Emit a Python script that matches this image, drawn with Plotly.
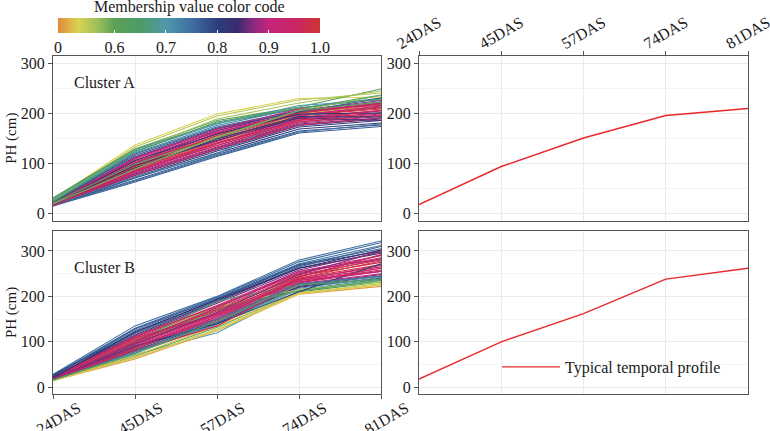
import plotly.graph_objects as go
from plotly.colors import sample_colorscale

days = ["24DAS", "45DAS", "57DAS", "74DAS", "81DAS"]

profile_a = [17, 93, 150, 195, 209]
profile_b = [18, 100, 162, 238, 262]

cluster_a = [
    [27, 136, 198, 229, 232], [25, 132, 194, 226, 240], [30, 128, 185, 212, 248],
    [26, 125, 188, 220, 244], [28, 127, 180, 208, 236], [24, 124, 178, 215, 226],
    [22, 120, 175, 210, 230], [20, 118, 172, 205, 222], [18, 112, 168, 203, 218],
    [20, 110, 165, 200, 220], [18, 105, 162, 200, 215], [17, 100, 158, 198, 212],
    [16, 98, 155, 196, 210], [18, 95, 152, 195, 208], [17, 92, 148, 194, 211],
    [19, 90, 145, 192, 205], [16, 88, 143, 190, 204], [18, 86, 140, 188, 200],
    [15, 84, 138, 185, 198], [17, 82, 135, 183, 196], [16, 80, 132, 180, 193],
    [15, 78, 130, 178, 190], [16, 75, 127, 175, 188], [15, 72, 124, 172, 185],
    [14, 70, 120, 168, 180], [15, 66, 117, 164, 176], [14, 62, 113, 160, 173],
    [15, 64, 115, 162, 178], [19, 92, 140, 198, 215], [16, 72, 118, 197, 200],
    [18, 100, 165, 205, 225], [17, 97, 160, 202, 220], [16, 93, 155, 200, 218],
    [19, 103, 150, 190, 205], [18, 90, 140, 186, 200], [15, 85, 135, 182, 195],
    [17, 108, 162, 196, 214], [16, 76, 128, 176, 190], [21, 115, 170, 202, 230],
    [23, 122, 182, 210, 228], [19, 105, 158, 198, 200], [17, 95, 145, 190, 185],
    [16, 90, 148, 193, 192], [18, 110, 168, 208, 215], [15, 82, 140, 186, 205],
    [20, 98, 150, 205, 222], [18, 88, 152, 205, 235],
]
membership_a = [
    0.53, 0.55, 0.62, 0.56, 0.66, 0.70, 0.72, 0.76, 0.80, 0.88, 0.92, 0.95,
    0.98, 0.99, 0.97, 0.96, 0.94, 0.93, 0.90, 0.91, 0.89, 0.86, 0.84, 0.82,
    0.80, 0.78, 0.77, 0.75, 0.51, 0.72, 0.87, 0.93, 0.99, 0.96, 0.98, 0.97,
    0.90, 0.95, 0.78, 0.65, 0.83, 0.85, 0.81, 0.92, 0.94, 0.60, 0.58,
]

cluster_b = [
    [28, 135, 200, 280, 322], [26, 130, 198, 276, 318], [25, 125, 196, 272, 312],
    [24, 128, 195, 270, 305], [27, 120, 193, 268, 300], [22, 118, 190, 265, 310],
    [23, 115, 188, 262, 295], [21, 112, 185, 258, 298], [20, 110, 180, 255, 290],
    [19, 108, 176, 252, 285], [18, 105, 172, 248, 280], [17, 102, 168, 245, 275],
    [18, 100, 164, 240, 270], [17, 98, 160, 238, 265], [16, 96, 158, 235, 262],
    [18, 94, 155, 232, 258], [17, 92, 152, 230, 255], [16, 90, 150, 228, 250],
    [17, 88, 148, 226, 248], [16, 85, 145, 222, 245], [15, 82, 142, 220, 240],
    [16, 78, 140, 218, 242], [15, 75, 138, 215, 238], [14, 72, 120, 212, 236],
    [15, 68, 132, 210, 232], [14, 65, 128, 207, 228], [15, 62, 125, 205, 222],
    [16, 70, 135, 208, 225], [18, 104, 177, 215, 232], [19, 95, 170, 212, 235],
    [17, 100, 190, 225, 245], [20, 112, 178, 250, 290], [18, 104, 170, 244, 283],
    [17, 97, 162, 242, 292], [19, 108, 160, 236, 268], [16, 84, 150, 240, 278],
    [18, 90, 140, 210, 272], [15, 80, 135, 230, 262], [20, 122, 192, 262, 302],
    [18, 100, 175, 255, 282], [17, 95, 165, 248, 300], [16, 88, 155, 235, 255],
    [15, 78, 150, 228, 244], [14, 66, 126, 206, 226], [16, 74, 145, 225, 238],
]
membership_b = [
    0.75, 0.76, 0.74, 0.77, 0.79, 0.76, 0.83, 0.86, 0.91, 0.94, 0.96, 0.98,
    0.99, 0.97, 0.95, 0.93, 0.92, 0.90, 0.88, 0.85, 0.82, 0.72, 0.68, 0.70,
    0.62, 0.55, 0.50, 0.52, 0.56, 0.60, 0.66, 0.97, 0.99, 0.95, 0.92, 0.98,
    0.80, 0.96, 0.84, 0.89, 0.87, 0.93, 0.74, 0.53, 0.64,
]

cbar_tickvals = [0.49, 0.6, 0.7, 0.8, 0.9, 1.0]
cbar_ticktext = ["0", "0.6", "0.7", "0.8", "0.9", "1.0"]
cmin, cmax = 0.49, 1.0

colorscale = [
    [0.000, "#E3893A"], [0.078, "#D9D252"], [0.157, "#96BE5A"],
    [0.216, "#5BA155"], [0.314, "#4E9A66"], [0.412, "#4E98AC"],
    [0.510, "#3F6FA3"], [0.608, "#2C3E7C"], [0.686, "#3A2B6E"],
    [0.745, "#8A2A80"], [0.804, "#C52479"], [0.902, "#C82565"],
    [1.000, "#CC3535"],
]

FONT = "Liberation Serif"
RED = "#E8282B"
TXT = "#1a1a1a"

PL, PR, PT, PB = 53, 748, 56, 394          # plot-area box in window pixels (770 x 431)
W = PR - PL
H = PB - PT


def px(x):
    return (x - PL) / W


def py(y):
    return (PB - y) / H


def col(m):
    return sample_colorscale(colorscale, [(m - cmin) / (cmax - cmin)])[0]


fig = go.Figure()

for vals, m in zip(cluster_a, membership_a):
    fig.add_trace(go.Scatter(x=days, y=vals, mode="lines", line=dict(color=col(m), width=1.1),
                             showlegend=False, hoverinfo="skip", xaxis="x", yaxis="y"))
for vals, m in zip(cluster_b, membership_b):
    fig.add_trace(go.Scatter(x=days, y=vals, mode="lines", line=dict(color=col(m), width=1.1),
                             showlegend=False, hoverinfo="skip", xaxis="x3", yaxis="y3"))

# colorbar carrier (invisible marker)
fig.add_trace(go.Scatter(
    x=[days[0]], y=[profile_a[0]], mode="markers", showlegend=False, hoverinfo="skip",
    marker=dict(color=[cmin], colorscale=colorscale, cmin=cmin, cmax=cmax, opacity=0, size=1,
                showscale=True,
                colorbar=dict(orientation="h", x=px((58 + 320) / 2), xanchor="center",
                              y=py(18), yanchor="top", len=262, lenmode="pixels",
                              thickness=15, xpad=0, ypad=0, outlinewidth=0,
                              tickvals=cbar_tickvals, ticktext=cbar_ticktext,
                              ticks="inside", ticklen=3, tickcolor="white", tickwidth=1,
                              tickfont=dict(family=FONT, size=16, color=TXT))),
    xaxis="x", yaxis="y"))

fig.add_trace(go.Scatter(x=days, y=profile_a, mode="lines", line=dict(color=RED, width=1.4),
                         showlegend=False, hoverinfo="skip", xaxis="x2", yaxis="y2"))
fig.add_trace(go.Scatter(x=days, y=profile_b, mode="lines", line=dict(color=RED, width=1.4),
                         name="Typical temporal profile", showlegend=True, hoverinfo="skip",
                         xaxis="x4", yaxis="y4"))

xl = [px(53), px(381)]
xr = [px(419), px(748)]
yt = [py(220.5), py(56)]
yb = [py(394), py(231)]

tickfont = dict(family=FONT, size=16, color=TXT)


def xaxis(domain, anchor, side, labels, shift, standoff):
    return dict(domain=domain, anchor=anchor, side=side, type="category", range=[0, 4],
                showgrid=True, gridcolor="#EBEBEB", gridwidth=1,
                showline=True, mirror=True, linecolor="#555555", linewidth=1,
                ticks="outside" if labels else "", ticklen=4, tickcolor="#555555",
                showticklabels=labels, tickangle=-30, tickfont=tickfont, zeroline=False,
                ticklabelshift=shift, ticklabelstandoff=standoff, automargin=False)


def yaxis(domain, anchor, rng, title):
    return dict(domain=domain, anchor=anchor, range=rng, tickvals=[0, 100, 200, 300],
                showgrid=True, gridcolor="#EBEBEB", gridwidth=1,
                minor=dict(tickvals=[50, 150, 250], showgrid=True, gridcolor="#F4F4F4",
                           gridwidth=1, ticks=""),
                showline=True, mirror=True, linecolor="#555555", linewidth=1,
                ticks="outside", ticklen=4, tickcolor="#555555", tickfont=tickfont, zeroline=False,
                automargin=False,
                title=dict(text=title, font=dict(family=FONT, size=15, color=TXT), standoff=0))


fig.update_layout(
    width=770, height=431,
    margin=dict(l=PL, r=770 - PR, t=PT, b=431 - PB, autoexpand=False),
    paper_bgcolor="white", plot_bgcolor="white",
    font=dict(family=FONT, color=TXT),
    xaxis=xaxis(xl, "y", "bottom", False, 0, 0),
    yaxis=yaxis(yt, "x", [-15, 314], "PH (cm)"),
    xaxis2=xaxis(xr, "y2", "top", True, -22, -6),
    yaxis2=yaxis(yt, "x2", [-15, 314], ""),
    xaxis3=xaxis(xl, "y3", "bottom", True, 25, -6),
    yaxis3=yaxis(yb, "x3", [-15, 344], "PH (cm)"),
    xaxis4=xaxis(xr, "y4", "bottom", False, 0, 0),
    yaxis4=yaxis(yb, "x4", [-15, 344], ""),
    legend=dict(x=px(497), y=py(367), xanchor="left", yanchor="middle",
                bgcolor="rgba(0,0,0,0)", font=dict(family=FONT, size=16, color=TXT),
                itemwidth=58),
    annotations=[
        dict(text="Membership value color code", x=px((58 + 320) / 2), y=py(7),
             xref="paper", yref="paper", showarrow=False, xanchor="center", yanchor="middle",
             font=dict(family=FONT, size=16, color=TXT)),
        dict(text="Cluster A", x=px(72), y=py(83), xref="paper", yref="paper",
             showarrow=False, xanchor="left", yanchor="middle",
             font=dict(family=FONT, size=16, color=TXT)),
        dict(text="Cluster B", x=px(72), y=py(267), xref="paper", yref="paper",
             showarrow=False, xanchor="left", yanchor="middle",
             font=dict(family=FONT, size=16, color=TXT)),
    ],
)

fig.write_html("out.html", config={"displayModeBar": False},
               post_script="document.body.style.margin='0px';")
